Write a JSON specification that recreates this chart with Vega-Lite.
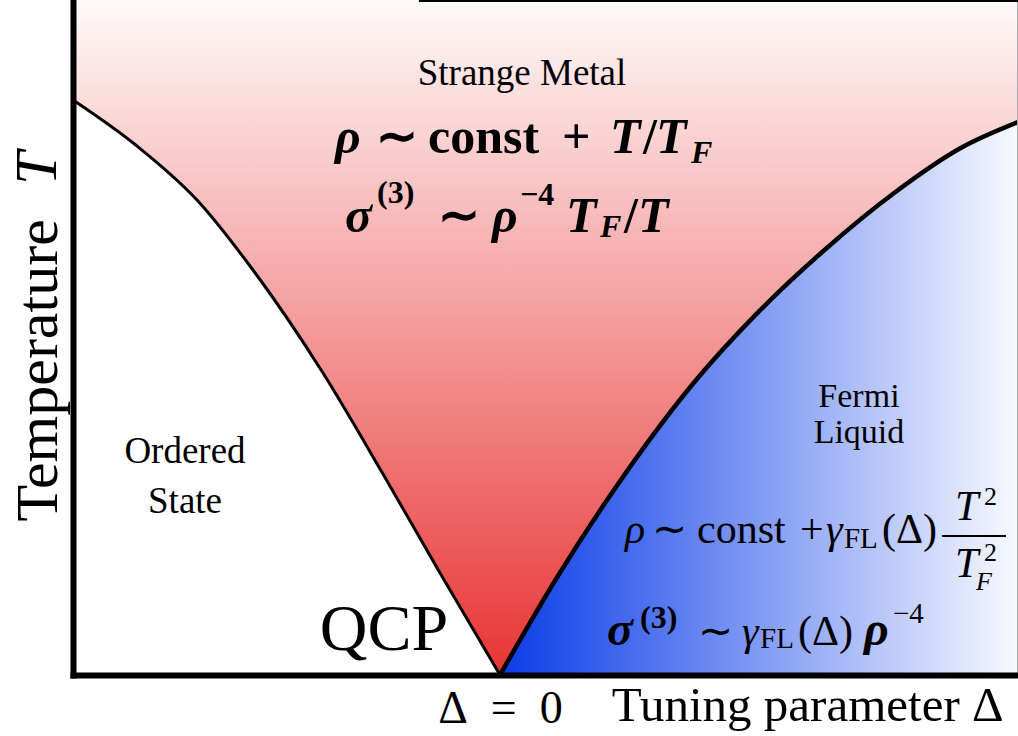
{
  "$schema": "https://vega.github.io/schema/vega-lite/v6.json",
  "width": 945,
  "height": 675,
  "autosize": {"type": "none"},
  "padding": {"left": 73, "top": 0, "right": 0, "bottom": 61},
  "background": "white",
  "config": {"view": {"stroke": null}},
  "datasets": {
    "left": [
      {"x": -1, "T": 0.8519}, {"x": -0.8501, "T": 0.7837}, {"x": -0.7096, "T": 0.7037},
      {"x": -0.5785, "T": 0.6}, {"x": -0.4145, "T": 0.4474}, {"x": -0.274, "T": 0.2978},
      {"x": -0.1405, "T": 0.1511}, {"x": 0, "T": 0}
    ],
    "right": [
      {"x": 0, "T": 0}, {"x": 0.133, "T": 0.144}, {"x": 0.293, "T": 0.298},
      {"x": 0.45, "T": 0.43}, {"x": 0.607, "T": 0.539}, {"x": 0.766, "T": 0.633},
      {"x": 0.923, "T": 0.714}, {"x": 1.08, "T": 0.781}, {"x": 1.2131, "T": 0.819}
    ],
    "edge": [{"x": 1.2131, "T": 0, "T2": 1}],
    "topline": [{"x": -0.19, "x2": 1.2131, "T": 1}],
    "fracbar": [{"x": 1.0351, "x2": 1.185, "T": 0.2059}],
    "labels": [
      {"t": "Strange Metal", "x": 0.0515, "T": 0.8741},
      {"t": "Ordered", "x": -0.7377, "T": 0.3141},
      {"t": "State", "x": -0.7377, "T": 0.24}
    ],
    "labels2": [
      {"t": "Fermi", "x": 0.8407, "T": 0.3970},
      {"t": "Liquid", "x": 0.8407, "T": 0.3437}
    ],
    "qcp": [{"t": "QCP", "x": -0.2717, "T": 0.037}],
    "ytitleT": [{"t": "T", "x": -1.0398, "T": 0.7259}],
    "fbi": [
      {"t": "ρ", "x": -0.3864, "T": 0.7733},
      {"t": "T", "x": 0.2576, "T": 0.7733},
      {"t": "T", "x": 0.3653, "T": 0.7733},
      {"t": "σ", "x": -0.363, "T": 0.6563},
      {"t": "ρ", "x": -0.0187, "T": 0.6563},
      {"t": "T", "x": 0.1546, "T": 0.6563},
      {"t": "T", "x": 0.3232, "T": 0.6563}
    ],
    "fb": [
      {"t": "∼", "x": -0.2904, "T": 0.7733},
      {"t": "const", "x": -0.1686, "T": 0.7733},
      {"t": "+", "x": 0.1452, "T": 0.7733},
      {"t": "/", "x": 0.3349, "T": 0.7733},
      {"t": "∼", "x": -0.1452, "T": 0.6563},
      {"t": "/", "x": 0.2904, "T": 0.6563}
    ],
    "fbsub": [
      {"t": "F", "x": 0.4473, "T": 0.7585},
      {"t": "F", "x": 0.2342, "T": 0.6489}
    ],
    "fbsup": [
      {"t": "(3)", "x": -0.2881, "T": 0.6993},
      {"t": "−4", "x": 0.0468, "T": 0.6963},
      {"t": "(3)", "x": 0.3279, "T": 0.0696}
    ],
    "fr": [
      {"t": "∼", "x": 0.356, "T": 0.1956},
      {"t": "const", "x": 0.4614, "T": 0.1956},
      {"t": "+", "x": 0.7026, "T": 0.1956},
      {"t": "(Δ)", "x": 0.8946, "T": 0.1956},
      {"t": "∼", "x": 0.4637, "T": 0.0444},
      {"t": "(Δ)", "x": 0.6979, "T": 0.0444}
    ],
    "fri": [
      {"t": "ρ", "x": 0.2927, "T": 0.1956},
      {"t": "γ", "x": 0.7635, "T": 0.1956},
      {"t": "T", "x": 1.0656, "T": 0.2296},
      {"t": "T", "x": 1.0656, "T": 0.1452},
      {"t": "γ", "x": 0.5667, "T": 0.0444}
    ],
    "frsub": [
      {"t": "FL", "x": 0.8056, "T": 0.1881},
      {"t": "FL", "x": 0.6089, "T": 0.04},
      {"t": "−4", "x": 0.9204, "T": 0.077}
    ],
    "frsup2": [
      {"t": "2", "x": 1.1335, "T": 0.2519},
      {"t": "2", "x": 1.1335, "T": 0.1689}
    ],
    "frsubi": [{"t": "F", "x": 1.1148, "T": 0.1259}],
    "frb": [
      {"t": "σ", "x": 0.2506, "T": 0.0444},
      {"t": "ρ", "x": 0.8525, "T": 0.0444}
    ]
  },
  "encoding": {
    "x": {
      "field": "x", "type": "quantitative",
      "scale": {"domain": [-1, 1.2131], "nice": false, "zero": false},
      "axis": {
        "values": [0], "labelExpr": "'Δ\u2002=\u20020'", "grid": false, "ticks": false, "tickSize": 0,
        "labelFont": "Liberation Serif", "labelFontSize": 46, "labelColor": "black",
        "labelBaseline": "alphabetic", "labelPadding": 47, "labelFlush": false, "labelOverlap": false,
        "domainColor": "black", "domainWidth": 6, "domainCap": "square",
        "title": "Tuning parameter Δ", "titleFont": "Liberation Serif", "titleFontSize": 49,
        "titleFontWeight": "normal", "titleColor": "black", "titleX": 930, "titleY": 45,
        "titleAlign": "right", "titleBaseline": "alphabetic", "zindex": 2
      }
    },
    "y": {
      "field": "T", "type": "quantitative",
      "scale": {"domain": [0, 1], "nice": false, "zero": false},
      "axis": {
        "values": [], "labels": false, "ticks": false, "grid": false,
        "domainColor": "black", "domainWidth": 6, "domainCap": "square",
        "title": "Temperature", "titleFont": "Liberation Serif", "titleFontSize": 60,
        "titleFontWeight": "normal", "titleColor": "black", "titleAngle": 270,
        "titleAlign": "left", "titleBaseline": "alphabetic", "titleX": -17, "titleY": 521, "zindex": 2
      }
    }
  },
  "layer": [
    {
      "data": {"name": "left"},
      "mark": {"type": "area", "interpolate": "monotone", "strokeWidth": 1,
        "fill": {"gradient": "linear", "x1": 0, "y1": 0, "x2": 0, "y2": 1,
          "stops": [{"offset": 0, "color": "#fffafa"}, {"offset": 1, "color": "#e83434"}]},
        "stroke": {"gradient": "linear", "x1": 0, "y1": 0, "x2": 0, "y2": 1,
          "stops": [{"offset": 0, "color": "#fffafa"}, {"offset": 1, "color": "#e83434"}]}},
      "encoding": {"y2": {"datum": 1}}
    },
    {
      "data": {"name": "right"},
      "mark": {"type": "area", "interpolate": "monotone", "strokeWidth": 1,
        "fill": {"gradient": "linear", "x1": 0, "y1": 0, "x2": 0, "y2": 1,
          "stops": [{"offset": 0, "color": "#fffafa"}, {"offset": 1, "color": "#e83434"}]},
        "stroke": {"gradient": "linear", "x1": 0, "y1": 0, "x2": 0, "y2": 1,
          "stops": [{"offset": 0, "color": "#fffafa"}, {"offset": 1, "color": "#e83434"}]}},
      "encoding": {"y2": {"datum": 1}}
    },
    {
      "data": {"name": "right"},
      "mark": {"type": "area", "interpolate": "monotone",
        "fill": {"gradient": "linear", "x1": 0, "y1": 0, "x2": 1, "y2": 0,
          "stops": [{"offset": 0, "color": "#0a3ce8"}, {"offset": 1, "color": "#f8f9ff"}]}},
      "encoding": {"y2": {"datum": 0}}
    },
    {
      "data": {"name": "left"},
      "mark": {"type": "line", "interpolate": "monotone", "color": "black", "strokeWidth": 3},
      "encoding": {}
    },
    {
      "data": {"name": "right"},
      "mark": {"type": "line", "interpolate": "monotone", "color": "black", "strokeWidth": 4.5},
      "encoding": {}
    },
    {
      "data": {"name": "edge"},
      "mark": {"type": "rule", "color": "#aaaaaa", "strokeWidth": 2},
      "encoding": {"y2": {"field": "T2"}}
    },
    {
      "data": {"name": "topline"},
      "mark": {"type": "rule", "color": "black", "strokeWidth": 4},
      "encoding": {"x2": {"field": "x2"}}
    },
    {
      "data": {"name": "fracbar"},
      "mark": {"type": "rule", "color": "black", "strokeWidth": 2},
      "encoding": {"x2": {"field": "x2"}}
    },
    {
      "data": {"name": "labels"},
      "mark": {"type": "text", "font": "Liberation Serif", "fontSize": 37, "align": "center", "baseline": "alphabetic", "color": "black"},
      "encoding": {"text": {"field": "t"}}
    },
    {
      "data": {"name": "labels2"},
      "mark": {"type": "text", "font": "Liberation Serif", "fontSize": 34, "align": "center", "baseline": "alphabetic", "color": "black"},
      "encoding": {"text": {"field": "t"}}
    },
    {
      "data": {"name": "qcp"},
      "mark": {"type": "text", "font": "Liberation Serif", "fontSize": 66, "align": "center", "baseline": "alphabetic", "color": "black"},
      "encoding": {"text": {"field": "t"}}
    },
    {
      "data": {"name": "ytitleT"},
      "mark": {"type": "text", "font": "Liberation Serif", "fontSize": 60, "fontStyle": "italic", "angle": 270, "align": "left", "baseline": "alphabetic", "color": "black"},
      "encoding": {"text": {"field": "t"}}
    },
    {
      "data": {"name": "fbi"},
      "mark": {"type": "text", "font": "Liberation Serif", "fontSize": 50, "fontStyle": "italic", "fontWeight": "bold", "align": "left", "baseline": "alphabetic", "color": "black"},
      "encoding": {"text": {"field": "t"}}
    },
    {
      "data": {"name": "fb"},
      "mark": {"type": "text", "font": "Liberation Serif", "fontSize": 50, "fontWeight": "bold", "align": "left", "baseline": "alphabetic", "color": "black"},
      "encoding": {"text": {"field": "t"}}
    },
    {
      "data": {"name": "fbsub"},
      "mark": {"type": "text", "font": "Liberation Serif", "fontSize": 32, "fontStyle": "italic", "fontWeight": "bold", "align": "left", "baseline": "alphabetic", "color": "black"},
      "encoding": {"text": {"field": "t"}}
    },
    {
      "data": {"name": "fbsup"},
      "mark": {"type": "text", "font": "Liberation Serif", "fontSize": 32, "fontWeight": "bold", "align": "left", "baseline": "alphabetic", "color": "black"},
      "encoding": {"text": {"field": "t"}}
    },
    {
      "data": {"name": "fr"},
      "mark": {"type": "text", "font": "Liberation Serif", "fontSize": 42, "align": "left", "baseline": "alphabetic", "color": "black"},
      "encoding": {"text": {"field": "t"}}
    },
    {
      "data": {"name": "fri"},
      "mark": {"type": "text", "font": "Liberation Serif", "fontSize": 42, "fontStyle": "italic", "align": "left", "baseline": "alphabetic", "color": "black"},
      "encoding": {"text": {"field": "t"}}
    },
    {
      "data": {"name": "frsub"},
      "mark": {"type": "text", "font": "Liberation Serif", "fontSize": 29, "align": "left", "baseline": "alphabetic", "color": "black"},
      "encoding": {"text": {"field": "t"}}
    },
    {
      "data": {"name": "frsup2"},
      "mark": {"type": "text", "font": "Liberation Serif", "fontSize": 26, "align": "left", "baseline": "alphabetic", "color": "black"},
      "encoding": {"text": {"field": "t"}}
    },
    {
      "data": {"name": "frsubi"},
      "mark": {"type": "text", "font": "Liberation Serif", "fontSize": 26, "fontStyle": "italic", "align": "left", "baseline": "alphabetic", "color": "black"},
      "encoding": {"text": {"field": "t"}}
    },
    {
      "data": {"name": "frb"},
      "mark": {"type": "text", "font": "Liberation Serif", "fontSize": 48, "fontStyle": "italic", "fontWeight": "bold", "align": "left", "baseline": "alphabetic", "color": "black"},
      "encoding": {"text": {"field": "t"}}
    }
  ]
}
